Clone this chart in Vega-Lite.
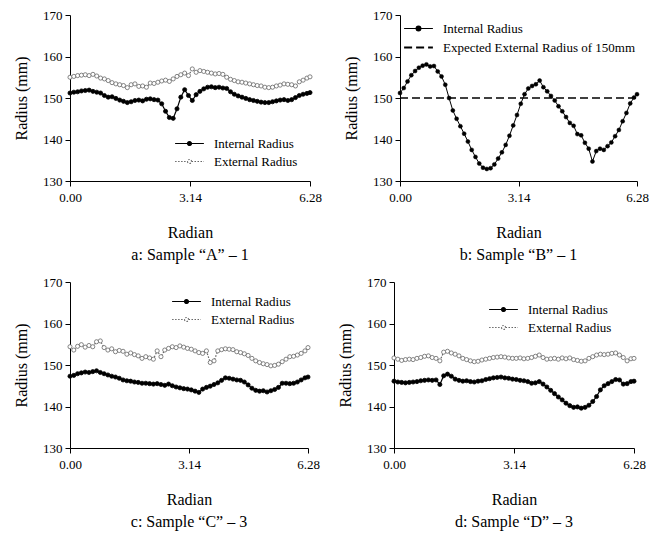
{
"$schema": "https://vega.github.io/schema/vega-lite/v6.json",
"background": "white",
"padding": {"left": 13, "top": 9, "right": 5, "bottom": 5},
"config": {
  "view": {"stroke": null},
  "font": "Liberation Serif",
  "axis": {"labelFont": "Liberation Serif", "labelFontSize": 13, "labelColor": "black", "titleFont": "Liberation Serif", "titleFontSize": 16, "titleFontWeight": "normal", "titleColor": "black", "domainColor": "black", "tickColor": "black", "tickSize": 5, "grid": false, "labelPadding": 3},
  "axisX": {"labelFlush": false, "labelPadding": 5, "titlePadding": 20},
  "axisY": {"titlePadding": 13},
  "title": {"font": "Liberation Serif", "fontSize": 16, "fontWeight": "normal", "color": "black", "orient": "bottom", "frame": "group", "offset": 7},
  "legend": {"labelFont": "Liberation Serif", "labelFontSize": 13, "labelColor": "black", "labelLimit": 0, "padding": 0, "offset": 0, "symbolSize": 64, "symbolOffset": 10, "labelOffset": 18, "rowPadding": 4, "symbolStrokeWidth": 1.1}
},
"resolve": {"scale": {"stroke": "independent", "fill": "independent", "strokeDash": "independent"}, "legend": {"stroke": "independent", "fill": "independent", "strokeDash": "independent"}},
"datasets": {
"a": [
{"x":0,"y":151.2,"s":"Internal Radius"},{"x":0.1,"y":151.4,"s":"Internal Radius"},{"x":0.2,"y":151.5,"s":"Internal Radius"},{"x":0.3,"y":151.7,"s":"Internal Radius"},{"x":0.4,"y":151.8,"s":"Internal Radius"},{"x":0.5,"y":151.9,"s":"Internal Radius"},{"x":0.6,"y":151.6,"s":"Internal Radius"},{"x":0.7,"y":151.4,"s":"Internal Radius"},{"x":0.8,"y":151.2,"s":"Internal Radius"},{"x":0.9,"y":150.6,"s":"Internal Radius"},{"x":1.0,"y":150.2,"s":"Internal Radius"},{"x":1.1,"y":150.3,"s":"Internal Radius"},{"x":1.2,"y":149.9,"s":"Internal Radius"},{"x":1.3,"y":149.5,"s":"Internal Radius"},{"x":1.4,"y":149.2,"s":"Internal Radius"},{"x":1.5,"y":148.9,"s":"Internal Radius"},{"x":1.6,"y":149.1,"s":"Internal Radius"},{"x":1.7,"y":149.4,"s":"Internal Radius"},{"x":1.8,"y":149.5,"s":"Internal Radius"},{"x":1.9,"y":149.3,"s":"Internal Radius"},{"x":2.0,"y":149.7,"s":"Internal Radius"},{"x":2.1,"y":149.8,"s":"Internal Radius"},{"x":2.2,"y":149.6,"s":"Internal Radius"},{"x":2.3,"y":149.5,"s":"Internal Radius"},{"x":2.4,"y":148.6,"s":"Internal Radius"},{"x":2.5,"y":146.8,"s":"Internal Radius"},{"x":2.6,"y":145.3,"s":"Internal Radius"},{"x":2.7,"y":145.1,"s":"Internal Radius"},{"x":2.8,"y":147.4,"s":"Internal Radius"},{"x":2.9,"y":150.2,"s":"Internal Radius"},{"x":3.0,"y":152.0,"s":"Internal Radius"},{"x":3.1,"y":150.6,"s":"Internal Radius"},{"x":3.2,"y":149.4,"s":"Internal Radius"},{"x":3.3,"y":150.8,"s":"Internal Radius"},{"x":3.4,"y":151.6,"s":"Internal Radius"},{"x":3.5,"y":152.2,"s":"Internal Radius"},{"x":3.6,"y":152.6,"s":"Internal Radius"},{"x":3.7,"y":152.7,"s":"Internal Radius"},{"x":3.8,"y":152.5,"s":"Internal Radius"},{"x":3.9,"y":152.6,"s":"Internal Radius"},{"x":4.0,"y":152.4,"s":"Internal Radius"},{"x":4.1,"y":152.3,"s":"Internal Radius"},{"x":4.2,"y":151.5,"s":"Internal Radius"},{"x":4.3,"y":150.9,"s":"Internal Radius"},{"x":4.4,"y":150.5,"s":"Internal Radius"},{"x":4.5,"y":150.2,"s":"Internal Radius"},{"x":4.6,"y":149.9,"s":"Internal Radius"},{"x":4.7,"y":149.6,"s":"Internal Radius"},{"x":4.8,"y":149.4,"s":"Internal Radius"},{"x":4.9,"y":149.2,"s":"Internal Radius"},{"x":5.0,"y":149.0,"s":"Internal Radius"},{"x":5.1,"y":148.9,"s":"Internal Radius"},{"x":5.2,"y":148.9,"s":"Internal Radius"},{"x":5.3,"y":149.1,"s":"Internal Radius"},{"x":5.4,"y":149.3,"s":"Internal Radius"},{"x":5.5,"y":149.5,"s":"Internal Radius"},{"x":5.6,"y":149.6,"s":"Internal Radius"},{"x":5.7,"y":149.4,"s":"Internal Radius"},{"x":5.8,"y":149.6,"s":"Internal Radius"},{"x":5.9,"y":150.1,"s":"Internal Radius"},{"x":6.0,"y":150.6,"s":"Internal Radius"},{"x":6.1,"y":150.9,"s":"Internal Radius"},{"x":6.2,"y":151.1,"s":"Internal Radius"},{"x":6.28,"y":151.3,"s":"Internal Radius"},
{"x":0,"y":155.0,"s":"External Radius"},{"x":0.1,"y":155.2,"s":"External Radius"},{"x":0.2,"y":155.4,"s":"External Radius"},{"x":0.3,"y":155.5,"s":"External Radius"},{"x":0.4,"y":155.6,"s":"External Radius"},{"x":0.5,"y":155.4,"s":"External Radius"},{"x":0.6,"y":155.7,"s":"External Radius"},{"x":0.7,"y":155.3,"s":"External Radius"},{"x":0.8,"y":154.8,"s":"External Radius"},{"x":0.9,"y":154.6,"s":"External Radius"},{"x":1.0,"y":154.2,"s":"External Radius"},{"x":1.1,"y":153.7,"s":"External Radius"},{"x":1.2,"y":153.4,"s":"External Radius"},{"x":1.3,"y":153.2,"s":"External Radius"},{"x":1.4,"y":153.0,"s":"External Radius"},{"x":1.5,"y":152.5,"s":"External Radius"},{"x":1.6,"y":153.2,"s":"External Radius"},{"x":1.7,"y":153.4,"s":"External Radius"},{"x":1.8,"y":152.8,"s":"External Radius"},{"x":1.9,"y":152.9,"s":"External Radius"},{"x":2.0,"y":152.6,"s":"External Radius"},{"x":2.1,"y":153.6,"s":"External Radius"},{"x":2.2,"y":153.5,"s":"External Radius"},{"x":2.3,"y":153.8,"s":"External Radius"},{"x":2.4,"y":154.1,"s":"External Radius"},{"x":2.5,"y":154.3,"s":"External Radius"},{"x":2.6,"y":154.0,"s":"External Radius"},{"x":2.7,"y":154.6,"s":"External Radius"},{"x":2.8,"y":155.2,"s":"External Radius"},{"x":2.9,"y":155.6,"s":"External Radius"},{"x":3.0,"y":156.0,"s":"External Radius"},{"x":3.1,"y":155.4,"s":"External Radius"},{"x":3.2,"y":157.0,"s":"External Radius"},{"x":3.3,"y":156.2,"s":"External Radius"},{"x":3.4,"y":156.6,"s":"External Radius"},{"x":3.5,"y":156.4,"s":"External Radius"},{"x":3.6,"y":156.2,"s":"External Radius"},{"x":3.7,"y":156.0,"s":"External Radius"},{"x":3.8,"y":155.8,"s":"External Radius"},{"x":3.9,"y":155.9,"s":"External Radius"},{"x":4.0,"y":155.7,"s":"External Radius"},{"x":4.1,"y":155.0,"s":"External Radius"},{"x":4.2,"y":154.5,"s":"External Radius"},{"x":4.3,"y":154.2,"s":"External Radius"},{"x":4.4,"y":153.9,"s":"External Radius"},{"x":4.5,"y":153.8,"s":"External Radius"},{"x":4.6,"y":153.6,"s":"External Radius"},{"x":4.7,"y":153.4,"s":"External Radius"},{"x":4.8,"y":153.2,"s":"External Radius"},{"x":4.9,"y":153.0,"s":"External Radius"},{"x":5.0,"y":152.9,"s":"External Radius"},{"x":5.1,"y":152.6,"s":"External Radius"},{"x":5.2,"y":152.5,"s":"External Radius"},{"x":5.3,"y":152.6,"s":"External Radius"},{"x":5.4,"y":152.9,"s":"External Radius"},{"x":5.5,"y":153.1,"s":"External Radius"},{"x":5.6,"y":153.4,"s":"External Radius"},{"x":5.7,"y":153.3,"s":"External Radius"},{"x":5.8,"y":153.2,"s":"External Radius"},{"x":5.9,"y":152.9,"s":"External Radius"},{"x":6.0,"y":153.9,"s":"External Radius"},{"x":6.1,"y":154.3,"s":"External Radius"},{"x":6.2,"y":154.8,"s":"External Radius"},{"x":6.28,"y":155.1,"s":"External Radius"}
],
"b": [
{"x":0,"y":151.2,"s":"Internal Radius"},{"x":0.1,"y":152.4,"s":"Internal Radius"},{"x":0.2,"y":154.0,"s":"Internal Radius"},{"x":0.3,"y":155.5,"s":"Internal Radius"},{"x":0.4,"y":156.5,"s":"Internal Radius"},{"x":0.5,"y":157.3,"s":"Internal Radius"},{"x":0.6,"y":157.8,"s":"Internal Radius"},{"x":0.7,"y":158.1,"s":"Internal Radius"},{"x":0.8,"y":157.6,"s":"Internal Radius"},{"x":0.9,"y":157.7,"s":"Internal Radius"},{"x":1.0,"y":156.4,"s":"Internal Radius"},{"x":1.1,"y":155.2,"s":"Internal Radius"},{"x":1.2,"y":153.2,"s":"Internal Radius"},{"x":1.3,"y":150.0,"s":"Internal Radius"},{"x":1.4,"y":147.0,"s":"Internal Radius"},{"x":1.5,"y":145.0,"s":"Internal Radius"},{"x":1.6,"y":143.2,"s":"Internal Radius"},{"x":1.7,"y":141.4,"s":"Internal Radius"},{"x":1.8,"y":139.5,"s":"Internal Radius"},{"x":1.9,"y":137.5,"s":"Internal Radius"},{"x":2.0,"y":135.8,"s":"Internal Radius"},{"x":2.1,"y":134.2,"s":"Internal Radius"},{"x":2.2,"y":133.2,"s":"Internal Radius"},{"x":2.3,"y":132.9,"s":"Internal Radius"},{"x":2.4,"y":133.1,"s":"Internal Radius"},{"x":2.5,"y":134.0,"s":"Internal Radius"},{"x":2.6,"y":135.4,"s":"Internal Radius"},{"x":2.7,"y":136.9,"s":"Internal Radius"},{"x":2.8,"y":138.7,"s":"Internal Radius"},{"x":2.9,"y":140.9,"s":"Internal Radius"},{"x":3.0,"y":143.4,"s":"Internal Radius"},{"x":3.1,"y":145.9,"s":"Internal Radius"},{"x":3.2,"y":148.6,"s":"Internal Radius"},{"x":3.3,"y":150.9,"s":"Internal Radius"},{"x":3.4,"y":152.3,"s":"Internal Radius"},{"x":3.5,"y":152.9,"s":"Internal Radius"},{"x":3.6,"y":153.3,"s":"Internal Radius"},{"x":3.7,"y":154.2,"s":"Internal Radius"},{"x":3.8,"y":152.6,"s":"Internal Radius"},{"x":3.9,"y":151.6,"s":"Internal Radius"},{"x":4.0,"y":150.5,"s":"Internal Radius"},{"x":4.1,"y":149.4,"s":"Internal Radius"},{"x":4.2,"y":148.0,"s":"Internal Radius"},{"x":4.3,"y":146.8,"s":"Internal Radius"},{"x":4.4,"y":145.4,"s":"Internal Radius"},{"x":4.5,"y":144.0,"s":"Internal Radius"},{"x":4.6,"y":143.3,"s":"Internal Radius"},{"x":4.7,"y":141.3,"s":"Internal Radius"},{"x":4.8,"y":141.0,"s":"Internal Radius"},{"x":4.9,"y":139.2,"s":"Internal Radius"},{"x":5.0,"y":137.8,"s":"Internal Radius"},{"x":5.1,"y":134.7,"s":"Internal Radius"},{"x":5.2,"y":137.2,"s":"Internal Radius"},{"x":5.3,"y":137.8,"s":"Internal Radius"},{"x":5.4,"y":137.5,"s":"Internal Radius"},{"x":5.5,"y":138.4,"s":"Internal Radius"},{"x":5.6,"y":139.3,"s":"Internal Radius"},{"x":5.7,"y":140.8,"s":"Internal Radius"},{"x":5.8,"y":142.3,"s":"Internal Radius"},{"x":5.9,"y":144.4,"s":"Internal Radius"},{"x":6.0,"y":146.4,"s":"Internal Radius"},{"x":6.1,"y":148.7,"s":"Internal Radius"},{"x":6.2,"y":150.1,"s":"Internal Radius"},{"x":6.28,"y":150.9,"s":"Internal Radius"},
{"x":0,"y":150,"s":"Expected External Radius of 150mm"},{"x":6.28,"y":150,"s":"Expected External Radius of 150mm"}
],
"c": [
{"x":0,"y":147.3,"s":"Internal Radius"},{"x":0.1,"y":147.5,"s":"Internal Radius"},{"x":0.2,"y":147.9,"s":"Internal Radius"},{"x":0.3,"y":148.1,"s":"Internal Radius"},{"x":0.4,"y":148.3,"s":"Internal Radius"},{"x":0.5,"y":148.2,"s":"Internal Radius"},{"x":0.6,"y":148.4,"s":"Internal Radius"},{"x":0.7,"y":148.6,"s":"Internal Radius"},{"x":0.8,"y":148.2,"s":"Internal Radius"},{"x":0.9,"y":147.9,"s":"Internal Radius"},{"x":1.0,"y":147.6,"s":"Internal Radius"},{"x":1.1,"y":147.3,"s":"Internal Radius"},{"x":1.2,"y":147.1,"s":"Internal Radius"},{"x":1.3,"y":146.8,"s":"Internal Radius"},{"x":1.4,"y":146.4,"s":"Internal Radius"},{"x":1.5,"y":146.2,"s":"Internal Radius"},{"x":1.6,"y":146.1,"s":"Internal Radius"},{"x":1.7,"y":145.9,"s":"Internal Radius"},{"x":1.8,"y":145.8,"s":"Internal Radius"},{"x":1.9,"y":145.6,"s":"Internal Radius"},{"x":2.0,"y":145.6,"s":"Internal Radius"},{"x":2.1,"y":145.5,"s":"Internal Radius"},{"x":2.2,"y":145.4,"s":"Internal Radius"},{"x":2.3,"y":145.5,"s":"Internal Radius"},{"x":2.4,"y":145.3,"s":"Internal Radius"},{"x":2.5,"y":145.1,"s":"Internal Radius"},{"x":2.6,"y":145.4,"s":"Internal Radius"},{"x":2.7,"y":145.0,"s":"Internal Radius"},{"x":2.8,"y":144.7,"s":"Internal Radius"},{"x":2.9,"y":144.5,"s":"Internal Radius"},{"x":3.0,"y":144.3,"s":"Internal Radius"},{"x":3.1,"y":144.2,"s":"Internal Radius"},{"x":3.2,"y":144.0,"s":"Internal Radius"},{"x":3.3,"y":143.7,"s":"Internal Radius"},{"x":3.4,"y":143.4,"s":"Internal Radius"},{"x":3.5,"y":144.2,"s":"Internal Radius"},{"x":3.6,"y":144.6,"s":"Internal Radius"},{"x":3.7,"y":144.9,"s":"Internal Radius"},{"x":3.8,"y":145.3,"s":"Internal Radius"},{"x":3.9,"y":145.7,"s":"Internal Radius"},{"x":4.0,"y":146.3,"s":"Internal Radius"},{"x":4.1,"y":146.9,"s":"Internal Radius"},{"x":4.2,"y":146.8,"s":"Internal Radius"},{"x":4.3,"y":146.6,"s":"Internal Radius"},{"x":4.4,"y":146.4,"s":"Internal Radius"},{"x":4.5,"y":146.3,"s":"Internal Radius"},{"x":4.6,"y":145.9,"s":"Internal Radius"},{"x":4.7,"y":145.2,"s":"Internal Radius"},{"x":4.8,"y":144.4,"s":"Internal Radius"},{"x":4.9,"y":143.9,"s":"Internal Radius"},{"x":5.0,"y":143.7,"s":"Internal Radius"},{"x":5.1,"y":143.8,"s":"Internal Radius"},{"x":5.2,"y":143.5,"s":"Internal Radius"},{"x":5.3,"y":143.8,"s":"Internal Radius"},{"x":5.4,"y":144.1,"s":"Internal Radius"},{"x":5.5,"y":144.6,"s":"Internal Radius"},{"x":5.6,"y":145.6,"s":"Internal Radius"},{"x":5.7,"y":145.6,"s":"Internal Radius"},{"x":5.8,"y":145.5,"s":"Internal Radius"},{"x":5.9,"y":145.6,"s":"Internal Radius"},{"x":6.0,"y":145.9,"s":"Internal Radius"},{"x":6.1,"y":146.4,"s":"Internal Radius"},{"x":6.2,"y":146.9,"s":"Internal Radius"},{"x":6.28,"y":147.1,"s":"Internal Radius"},
{"x":0,"y":154.4,"s":"External Radius"},{"x":0.1,"y":153.6,"s":"External Radius"},{"x":0.2,"y":154.5,"s":"External Radius"},{"x":0.3,"y":154.9,"s":"External Radius"},{"x":0.4,"y":154.3,"s":"External Radius"},{"x":0.5,"y":154.7,"s":"External Radius"},{"x":0.6,"y":154.4,"s":"External Radius"},{"x":0.7,"y":155.6,"s":"External Radius"},{"x":0.8,"y":155.8,"s":"External Radius"},{"x":0.9,"y":154.2,"s":"External Radius"},{"x":1.0,"y":153.6,"s":"External Radius"},{"x":1.1,"y":153.9,"s":"External Radius"},{"x":1.2,"y":153.2,"s":"External Radius"},{"x":1.3,"y":153.5,"s":"External Radius"},{"x":1.4,"y":153.3,"s":"External Radius"},{"x":1.5,"y":152.6,"s":"External Radius"},{"x":1.6,"y":152.9,"s":"External Radius"},{"x":1.7,"y":152.5,"s":"External Radius"},{"x":1.8,"y":152.2,"s":"External Radius"},{"x":1.9,"y":151.6,"s":"External Radius"},{"x":2.0,"y":152.0,"s":"External Radius"},{"x":2.1,"y":151.7,"s":"External Radius"},{"x":2.2,"y":151.4,"s":"External Radius"},{"x":2.3,"y":153.4,"s":"External Radius"},{"x":2.4,"y":152.0,"s":"External Radius"},{"x":2.5,"y":153.6,"s":"External Radius"},{"x":2.6,"y":154.0,"s":"External Radius"},{"x":2.7,"y":154.4,"s":"External Radius"},{"x":2.8,"y":154.2,"s":"External Radius"},{"x":2.9,"y":154.6,"s":"External Radius"},{"x":3.0,"y":154.3,"s":"External Radius"},{"x":3.1,"y":154.0,"s":"External Radius"},{"x":3.2,"y":153.8,"s":"External Radius"},{"x":3.3,"y":153.4,"s":"External Radius"},{"x":3.4,"y":153.0,"s":"External Radius"},{"x":3.5,"y":152.8,"s":"External Radius"},{"x":3.6,"y":153.4,"s":"External Radius"},{"x":3.7,"y":150.6,"s":"External Radius"},{"x":3.8,"y":151.0,"s":"External Radius"},{"x":3.9,"y":153.4,"s":"External Radius"},{"x":4.0,"y":153.7,"s":"External Radius"},{"x":4.1,"y":153.9,"s":"External Radius"},{"x":4.2,"y":153.8,"s":"External Radius"},{"x":4.3,"y":153.7,"s":"External Radius"},{"x":4.4,"y":153.2,"s":"External Radius"},{"x":4.5,"y":153.0,"s":"External Radius"},{"x":4.6,"y":152.7,"s":"External Radius"},{"x":4.7,"y":152.3,"s":"External Radius"},{"x":4.8,"y":151.6,"s":"External Radius"},{"x":4.9,"y":151.0,"s":"External Radius"},{"x":5.0,"y":150.6,"s":"External Radius"},{"x":5.1,"y":150.3,"s":"External Radius"},{"x":5.2,"y":150.1,"s":"External Radius"},{"x":5.3,"y":149.8,"s":"External Radius"},{"x":5.4,"y":149.9,"s":"External Radius"},{"x":5.5,"y":150.2,"s":"External Radius"},{"x":5.6,"y":150.8,"s":"External Radius"},{"x":5.7,"y":151.4,"s":"External Radius"},{"x":5.8,"y":152.0,"s":"External Radius"},{"x":5.9,"y":152.1,"s":"External Radius"},{"x":6.0,"y":152.4,"s":"External Radius"},{"x":6.1,"y":152.8,"s":"External Radius"},{"x":6.2,"y":153.4,"s":"External Radius"},{"x":6.28,"y":154.2,"s":"External Radius"}
],
"d": [
{"x":0,"y":146.1,"s":"Internal Radius"},{"x":0.1,"y":145.9,"s":"Internal Radius"},{"x":0.2,"y":145.8,"s":"Internal Radius"},{"x":0.3,"y":145.7,"s":"Internal Radius"},{"x":0.4,"y":145.8,"s":"Internal Radius"},{"x":0.5,"y":145.9,"s":"Internal Radius"},{"x":0.6,"y":146.0,"s":"Internal Radius"},{"x":0.7,"y":146.2,"s":"Internal Radius"},{"x":0.8,"y":146.3,"s":"Internal Radius"},{"x":0.9,"y":146.4,"s":"Internal Radius"},{"x":1.0,"y":146.3,"s":"Internal Radius"},{"x":1.1,"y":146.4,"s":"Internal Radius"},{"x":1.2,"y":145.3,"s":"Internal Radius"},{"x":1.3,"y":147.4,"s":"Internal Radius"},{"x":1.4,"y":147.8,"s":"Internal Radius"},{"x":1.5,"y":147.3,"s":"Internal Radius"},{"x":1.6,"y":146.6,"s":"Internal Radius"},{"x":1.7,"y":146.3,"s":"Internal Radius"},{"x":1.8,"y":146.1,"s":"Internal Radius"},{"x":1.9,"y":146.2,"s":"Internal Radius"},{"x":2.0,"y":146.0,"s":"Internal Radius"},{"x":2.1,"y":145.9,"s":"Internal Radius"},{"x":2.2,"y":146.1,"s":"Internal Radius"},{"x":2.3,"y":146.2,"s":"Internal Radius"},{"x":2.4,"y":146.5,"s":"Internal Radius"},{"x":2.5,"y":146.7,"s":"Internal Radius"},{"x":2.6,"y":146.9,"s":"Internal Radius"},{"x":2.7,"y":147.0,"s":"Internal Radius"},{"x":2.8,"y":147.1,"s":"Internal Radius"},{"x":2.9,"y":146.9,"s":"Internal Radius"},{"x":3.0,"y":146.8,"s":"Internal Radius"},{"x":3.1,"y":146.6,"s":"Internal Radius"},{"x":3.2,"y":146.5,"s":"Internal Radius"},{"x":3.3,"y":146.3,"s":"Internal Radius"},{"x":3.4,"y":146.2,"s":"Internal Radius"},{"x":3.5,"y":146.0,"s":"Internal Radius"},{"x":3.6,"y":145.6,"s":"Internal Radius"},{"x":3.7,"y":145.7,"s":"Internal Radius"},{"x":3.8,"y":146.0,"s":"Internal Radius"},{"x":3.9,"y":145.4,"s":"Internal Radius"},{"x":4.0,"y":144.7,"s":"Internal Radius"},{"x":4.1,"y":143.9,"s":"Internal Radius"},{"x":4.2,"y":143.1,"s":"Internal Radius"},{"x":4.3,"y":142.3,"s":"Internal Radius"},{"x":4.4,"y":141.6,"s":"Internal Radius"},{"x":4.5,"y":140.8,"s":"Internal Radius"},{"x":4.6,"y":140.2,"s":"Internal Radius"},{"x":4.7,"y":139.8,"s":"Internal Radius"},{"x":4.8,"y":139.9,"s":"Internal Radius"},{"x":4.9,"y":139.6,"s":"Internal Radius"},{"x":5.0,"y":139.8,"s":"Internal Radius"},{"x":5.1,"y":140.3,"s":"Internal Radius"},{"x":5.2,"y":141.2,"s":"Internal Radius"},{"x":5.3,"y":142.4,"s":"Internal Radius"},{"x":5.4,"y":144.0,"s":"Internal Radius"},{"x":5.5,"y":145.0,"s":"Internal Radius"},{"x":5.6,"y":145.5,"s":"Internal Radius"},{"x":5.7,"y":146.0,"s":"Internal Radius"},{"x":5.8,"y":146.5,"s":"Internal Radius"},{"x":5.9,"y":146.4,"s":"Internal Radius"},{"x":6.0,"y":145.4,"s":"Internal Radius"},{"x":6.1,"y":145.5,"s":"Internal Radius"},{"x":6.2,"y":146.0,"s":"Internal Radius"},{"x":6.28,"y":146.1,"s":"Internal Radius"},
{"x":0,"y":151.7,"s":"External Radius"},{"x":0.1,"y":151.4,"s":"External Radius"},{"x":0.2,"y":151.1,"s":"External Radius"},{"x":0.3,"y":151.3,"s":"External Radius"},{"x":0.4,"y":151.4,"s":"External Radius"},{"x":0.5,"y":151.3,"s":"External Radius"},{"x":0.6,"y":151.6,"s":"External Radius"},{"x":0.7,"y":151.8,"s":"External Radius"},{"x":0.8,"y":152.1,"s":"External Radius"},{"x":0.9,"y":152.2,"s":"External Radius"},{"x":1.0,"y":151.8,"s":"External Radius"},{"x":1.1,"y":151.6,"s":"External Radius"},{"x":1.2,"y":151.0,"s":"External Radius"},{"x":1.3,"y":153.1,"s":"External Radius"},{"x":1.4,"y":153.3,"s":"External Radius"},{"x":1.5,"y":152.9,"s":"External Radius"},{"x":1.6,"y":152.6,"s":"External Radius"},{"x":1.7,"y":152.2,"s":"External Radius"},{"x":1.8,"y":151.6,"s":"External Radius"},{"x":1.9,"y":151.3,"s":"External Radius"},{"x":2.0,"y":151.0,"s":"External Radius"},{"x":2.1,"y":150.8,"s":"External Radius"},{"x":2.2,"y":150.9,"s":"External Radius"},{"x":2.3,"y":151.2,"s":"External Radius"},{"x":2.4,"y":151.4,"s":"External Radius"},{"x":2.5,"y":151.6,"s":"External Radius"},{"x":2.6,"y":151.8,"s":"External Radius"},{"x":2.7,"y":151.9,"s":"External Radius"},{"x":2.8,"y":152.0,"s":"External Radius"},{"x":2.9,"y":151.9,"s":"External Radius"},{"x":3.0,"y":151.7,"s":"External Radius"},{"x":3.1,"y":151.6,"s":"External Radius"},{"x":3.2,"y":151.6,"s":"External Radius"},{"x":3.3,"y":151.7,"s":"External Radius"},{"x":3.4,"y":151.5,"s":"External Radius"},{"x":3.5,"y":151.6,"s":"External Radius"},{"x":3.6,"y":151.8,"s":"External Radius"},{"x":3.7,"y":152.1,"s":"External Radius"},{"x":3.8,"y":152.4,"s":"External Radius"},{"x":3.9,"y":151.8,"s":"External Radius"},{"x":4.0,"y":151.4,"s":"External Radius"},{"x":4.1,"y":151.5,"s":"External Radius"},{"x":4.2,"y":151.6,"s":"External Radius"},{"x":4.3,"y":151.4,"s":"External Radius"},{"x":4.4,"y":151.7,"s":"External Radius"},{"x":4.5,"y":151.5,"s":"External Radius"},{"x":4.6,"y":151.7,"s":"External Radius"},{"x":4.7,"y":151.3,"s":"External Radius"},{"x":4.8,"y":151.1,"s":"External Radius"},{"x":4.9,"y":150.9,"s":"External Radius"},{"x":5.0,"y":151.0,"s":"External Radius"},{"x":5.1,"y":151.6,"s":"External Radius"},{"x":5.2,"y":152.0,"s":"External Radius"},{"x":5.3,"y":152.4,"s":"External Radius"},{"x":5.4,"y":152.6,"s":"External Radius"},{"x":5.5,"y":152.5,"s":"External Radius"},{"x":5.6,"y":152.6,"s":"External Radius"},{"x":5.7,"y":152.8,"s":"External Radius"},{"x":5.8,"y":152.9,"s":"External Radius"},{"x":5.9,"y":152.4,"s":"External Radius"},{"x":6.0,"y":151.8,"s":"External Radius"},{"x":6.1,"y":151.0,"s":"External Radius"},{"x":6.2,"y":151.5,"s":"External Radius"},{"x":6.28,"y":151.6,"s":"External Radius"}
]
},
"vconcat": [
{"hconcat": [
{
  "width": 240, "height": 166,
  "data": {"name": "a"},
  "title": {"text": "a: Sample “A” – 1"},
  "encoding": {
    "x": {"field": "x", "type": "quantitative", "title": "Radian", "scale": {"domain": [0, 6.28], "nice": false}, "axis": {"values": [0, 3.14, 6.28], "format": ".2f"}},
    "y": {"field": "y", "type": "quantitative", "title": "Radius (mm)", "scale": {"domain": [130, 170], "nice": false, "zero": false}, "axis": {"values": [130, 140, 150, 160, 170]}}
  },
  "layer": [
    {"mark": {"type": "line", "strokeWidth": 1.2},
     "encoding": {
       "stroke": {"field": "s", "type": "nominal", "scale": {"domain": ["Internal Radius", "External Radius"], "range": ["#000000", "#666666"]},
         "legend": {"title": null, "orient": "none", "legendX": 103, "legendY": 122, "symbolType": "M-3.6,0H-0.5M0.5,0H3.6M-0.5,0A0.5,0.5,0,1,0,0.5,0A0.5,0.5,0,1,0,-0.5,0Z"}},
       "strokeDash": {"field": "s", "type": "nominal", "scale": {"domain": ["Internal Radius", "External Radius"], "range": [[1, 0], [1.5, 1.5]]},
         "legend": {"title": null, "orient": "none", "legendX": 103, "legendY": 122, "symbolType": "M-3.6,0H-0.5M0.5,0H3.6M-0.5,0A0.5,0.5,0,1,0,0.5,0A0.5,0.5,0,1,0,-0.5,0Z"}}
     }},
    {"mark": {"type": "point", "size": 17, "strokeWidth": 0.8, "opacity": 1},
     "encoding": {
       "fill": {"field": "s", "type": "nominal", "scale": {"domain": ["Internal Radius", "External Radius"], "range": ["#000000", "#ffffff"]},
         "legend": {"title": null, "orient": "none", "legendX": 103, "legendY": 122, "symbolType": "M-3.6,0H-0.5M0.5,0H3.6M-0.5,0A0.5,0.5,0,1,0,0.5,0A0.5,0.5,0,1,0,-0.5,0Z"}},
       "stroke": {"field": "s", "type": "nominal"}
     }}
  ]
},
{
  "width": 237, "height": 166,
  "data": {"name": "b"},
  "title": {"text": "b: Sample “B” – 1"},
  "encoding": {
    "x": {"field": "x", "type": "quantitative", "title": "Radian", "scale": {"domain": [0, 6.28], "nice": false}, "axis": {"values": [0, 3.14, 6.28], "format": ".2f"}},
    "y": {"field": "y", "type": "quantitative", "title": "Radius (mm)", "scale": {"domain": [130, 170], "nice": false, "zero": false}, "axis": {"values": [130, 140, 150, 160, 170]}}
  },
  "layer": [
    {"transform": [{"filter": "datum.s === 'Expected External Radius of 150mm'"}],
     "mark": {"type": "line", "strokeWidth": 1.5, "color": "#000000"},
     "encoding": {
       "strokeDash": {"field": "s", "type": "nominal", "scale": {"domain": ["Expected External Radius of 150mm"], "range": [[8, 4]]},
         "legend": {"title": null, "orient": "none", "legendX": 2, "legendY": 26, "symbolType": "M-3.6,0H3.6", "symbolStrokeWidth": 2}}
     }},
    {"transform": [{"filter": "datum.s === 'Internal Radius'"}],
     "mark": {"type": "line", "strokeWidth": 1},
     "encoding": {
       "stroke": {"field": "s", "type": "nominal", "scale": {"domain": ["Internal Radius"], "range": ["#000000"]},
         "legend": {"title": null, "orient": "none", "legendX": 2, "legendY": 7, "symbolType": "M-3.6,0H3.6M-0.6,0A0.6,0.6,0,1,0,0.6,0A0.6,0.6,0,1,0,-0.6,0Z"}}
     }},
    {"transform": [{"filter": "datum.s === 'Internal Radius'"}],
     "mark": {"type": "point", "size": 16, "strokeWidth": 0.5, "opacity": 1},
     "encoding": {
       "fill": {"field": "s", "type": "nominal", "scale": {"domain": ["Internal Radius"], "range": ["#000000"]},
         "legend": {"title": null, "orient": "none", "legendX": 2, "legendY": 7, "symbolType": "M-3.6,0H3.6M-0.6,0A0.6,0.6,0,1,0,0.6,0A0.6,0.6,0,1,0,-0.6,0Z"}},
       "stroke": {"field": "s", "type": "nominal"}
     }}
  ]
}
], "spacing": 21,
"resolve": {"scale": {"stroke": "independent", "fill": "independent", "strokeDash": "independent"}, "legend": {"stroke": "independent", "fill": "independent", "strokeDash": "independent"}}},
{"hconcat": [
{
  "width": 238, "height": 166,
  "data": {"name": "c"},
  "title": {"text": "c: Sample “C” – 3"},
  "encoding": {
    "x": {"field": "x", "type": "quantitative", "title": "Radian", "scale": {"domain": [0, 6.28], "nice": false}, "axis": {"values": [0, 3.14, 6.28], "format": ".2f"}},
    "y": {"field": "y", "type": "quantitative", "title": "Radius (mm)", "scale": {"domain": [130, 170], "nice": false, "zero": false}, "axis": {"values": [130, 140, 150, 160, 170]}}
  },
  "layer": [
    {"mark": {"type": "line", "strokeWidth": 1.2},
     "encoding": {
       "stroke": {"field": "s", "type": "nominal", "scale": {"domain": ["Internal Radius", "External Radius"], "range": ["#000000", "#666666"]},
         "legend": {"title": null, "orient": "none", "legendX": 100, "legendY": 13, "symbolType": "M-3.6,0H-0.5M0.5,0H3.6M-0.5,0A0.5,0.5,0,1,0,0.5,0A0.5,0.5,0,1,0,-0.5,0Z"}},
       "strokeDash": {"field": "s", "type": "nominal", "scale": {"domain": ["Internal Radius", "External Radius"], "range": [[1, 0], [1.5, 1.5]]},
         "legend": {"title": null, "orient": "none", "legendX": 100, "legendY": 13, "symbolType": "M-3.6,0H-0.5M0.5,0H3.6M-0.5,0A0.5,0.5,0,1,0,0.5,0A0.5,0.5,0,1,0,-0.5,0Z"}}
     }},
    {"mark": {"type": "point", "size": 17, "strokeWidth": 0.8, "opacity": 1},
     "encoding": {
       "fill": {"field": "s", "type": "nominal", "scale": {"domain": ["Internal Radius", "External Radius"], "range": ["#000000", "#ffffff"]},
         "legend": {"title": null, "orient": "none", "legendX": 100, "legendY": 13, "symbolType": "M-3.6,0H-0.5M0.5,0H3.6M-0.5,0A0.5,0.5,0,1,0,0.5,0A0.5,0.5,0,1,0,-0.5,0Z"}},
       "stroke": {"field": "s", "type": "nominal"}
     }}
  ]
},
{
  "width": 240, "height": 166,
  "data": {"name": "d"},
  "title": {"text": "d: Sample “D” – 3"},
  "encoding": {
    "x": {"field": "x", "type": "quantitative", "title": "Radian", "scale": {"domain": [0, 6.28], "nice": false}, "axis": {"values": [0, 3.14, 6.28], "format": ".2f"}},
    "y": {"field": "y", "type": "quantitative", "title": "Radius (mm)", "scale": {"domain": [130, 170], "nice": false, "zero": false}, "axis": {"values": [130, 140, 150, 160, 170]}}
  },
  "layer": [
    {"mark": {"type": "line", "strokeWidth": 1.2},
     "encoding": {
       "stroke": {"field": "s", "type": "nominal", "scale": {"domain": ["Internal Radius", "External Radius"], "range": ["#000000", "#666666"]},
         "legend": {"title": null, "orient": "none", "legendX": 93, "legendY": 21, "symbolType": "M-3.6,0H-0.5M0.5,0H3.6M-0.5,0A0.5,0.5,0,1,0,0.5,0A0.5,0.5,0,1,0,-0.5,0Z"}},
       "strokeDash": {"field": "s", "type": "nominal", "scale": {"domain": ["Internal Radius", "External Radius"], "range": [[1, 0], [1.5, 1.5]]},
         "legend": {"title": null, "orient": "none", "legendX": 93, "legendY": 21, "symbolType": "M-3.6,0H-0.5M0.5,0H3.6M-0.5,0A0.5,0.5,0,1,0,0.5,0A0.5,0.5,0,1,0,-0.5,0Z"}}
     }},
    {"mark": {"type": "point", "size": 17, "strokeWidth": 0.8, "opacity": 1},
     "encoding": {
       "fill": {"field": "s", "type": "nominal", "scale": {"domain": ["Internal Radius", "External Radius"], "range": ["#000000", "#ffffff"]},
         "legend": {"title": null, "orient": "none", "legendX": 93, "legendY": 21, "symbolType": "M-3.6,0H-0.5M0.5,0H3.6M-0.5,0A0.5,0.5,0,1,0,0.5,0A0.5,0.5,0,1,0,-0.5,0Z"}},
       "stroke": {"field": "s", "type": "nominal"}
     }}
  ]
}
], "spacing": 17,
"resolve": {"scale": {"stroke": "independent", "fill": "independent", "strokeDash": "independent"}, "legend": {"stroke": "independent", "fill": "independent", "strokeDash": "independent"}}}
],
"spacing": 13
}
